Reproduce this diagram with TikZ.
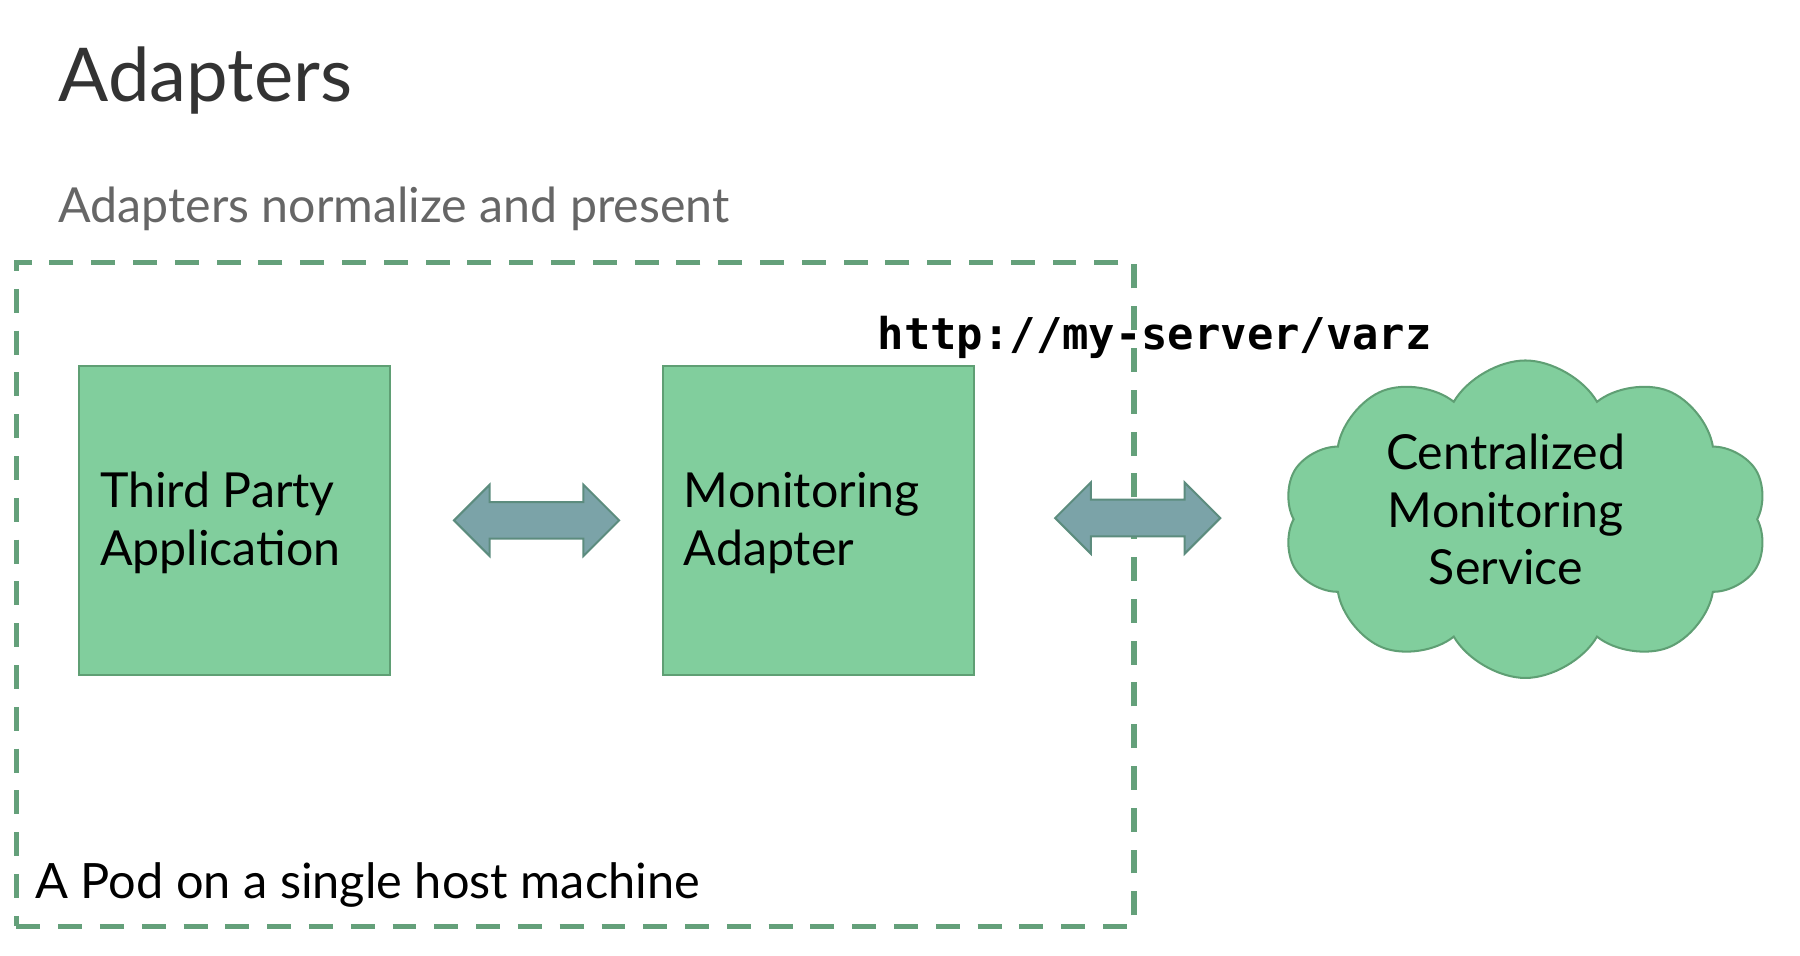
\documentclass[tikz,border=0pt]{standalone}
\usepackage{fontspec}
\setmainfont{Lato}
\setmonofont{DejaVu Sans Mono}
\usetikzlibrary{shapes.arrows,shapes.symbols}
\definecolor{boxfill}{HTML}{81CE9D}
\definecolor{boxline}{HTML}{5F9F74}
\definecolor{podline}{HTML}{64A07A}
\definecolor{arrfill}{HTML}{7BA3A8}
\definecolor{arrline}{HTML}{5C8C7E}
\definecolor{titlecol}{HTML}{333333}
\definecolor{subcol}{HTML}{666666}
\tikzset{
  compbox/.style={draw=boxline, fill=boxfill, line width=0.5pt, minimum width=2.69cm, minimum height=2.68cm, inner sep=0pt},
  boxtext/.style={anchor=base west, align=left, font=\fontsize{11.9}{14.2}\selectfont, inner sep=0pt},
  dblarrow/.style={shape=double arrow, draw=arrline, fill=arrfill, line width=0.5pt, minimum height=1.43cm, inner xsep=0pt, inner ysep=0.15cm, double arrow head extend=0.15cm},
}
\begin{document}
\begin{tikzpicture}[x=0.01cm, y=-0.01cm]
\useasboundingbox (0,0) rectangle (1560,828.5);
\node[anchor=base west, inner sep=0pt, text=titlecol, font=\fontsize{18.3}{20}\selectfont] (title) at (50,88) {Adapters};
\node[anchor=base west, inner sep=0pt, text=subcol, font=\fontsize{11.9}{14}\selectfont] (sub) at (50,193) {Adapters normalize and present};
\node[draw=podline, line width=1.3pt, dash pattern=on 5.9pt off 4.4pt, minimum width=9.68cm, minimum height=5.75cm, inner sep=0pt] (pod) at (498.5,515) {};
\node[compbox] (tpa) at (203,451) {};
\node[compbox] (ma) at (709.5,451) {};
\node[boxtext] (tpat) at (86,490) {Third Party\\Application};
\node[boxtext] (mat) at (592,490) {Monitoring\\Adapter};
\node[dblarrow] (a1) at (465,451) {};
\node[dblarrow] (a2) at (986,449) {};
\node[anchor=base west, inner sep=0pt, font=\ttfamily\bfseries\fontsize{10.8}{12}\selectfont] (url) at (760,303) {http://my-server/varz};
\node[shape=cloud, draw=boxline, fill=boxfill, line width=0.5pt, cloud puffs=10, cloud puff arc=120, aspect=1.5, minimum width=4.2cm, minimum height=2.75cm, inner sep=0pt] (cms) at (1322,450) {};
\node[align=center, font=\fontsize{11.9}{14.2}\selectfont, inner sep=0pt, anchor=base] (cmst) at (1305,507) {Centralized\\Monitoring\\Service};
\node[anchor=base west, inner sep=0pt, font=\fontsize{12}{14}\selectfont] (podl) at (30,779) {A Pod on a single host machine};
\end{tikzpicture}
\end{document}
